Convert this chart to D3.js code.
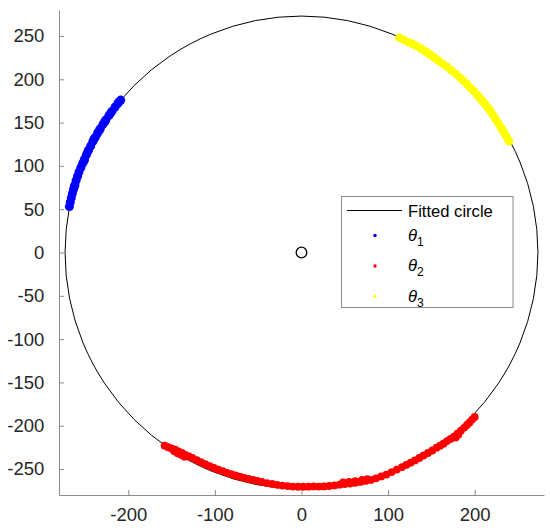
<!DOCTYPE html>
<html>
<head>
<meta charset="utf-8">
<script src="https://cdn.jsdelivr.net/npm/d3@7"></script>
<style>
    body { margin: 0; background: #fff; }
    svg { display: block; font-family: "Liberation Sans", Arial, Helvetica, sans-serif; }
</style>
</head>
<body>
<div id="chart"></div>
<script>
// fitted circle (center + radius)
const circleCenter = [0, 0];
const circleRadius = 273;

// theta 1 samples (blue)
const theta1 = [
    [-268.0, 53], [-267.0, 58], [-265.8, 63], [-264.6, 68], [-263.2, 73], [-262.3, 76],
    [-261.6, 78], [-260.3, 83], [-258.6, 88], [-256.9, 93], [-254.8, 98], [-252.6, 103],
    [-251.0, 106], [-250.4, 108], [-248.3, 113], [-246.6, 117], [-246.0, 118], [-243.4, 123],
    [-241.0, 128], [-239.6, 131], [-238.1, 133], [-235.4, 138], [-233.4, 141], [-232.3, 143],
    [-229.2, 148], [-227.2, 151], [-226.0, 153], [-222.4, 158], [-220.4, 161], [-218.8, 163],
    [-215.2, 168], [-212.0, 172], [-210.6, 174], [-208.7, 176]
];

// theta 2 samples (red)
const theta2 = [
    [-158, -223.1], [-154, -224.8], [-150, -226.3], [-147, -229.5], [-146, -227.7],
    [-143, -231.8], [-142, -229.6], [-139, -233.5], [-138, -231.5], [-135, -235.8],
    [-134, -233.8], [-130, -235.5], [-126, -237.1], [-121, -239.7], [-116, -242.1],
    [-111, -244.5], [-106, -246.7], [-101, -248.8], [-96, -250.8], [-91, -252.6],
    [-86, -254.4], [-81, -256.0], [-76, -257.5], [-71, -258.9], [-66, -260.3],
    [-61, -261.5], [-56, -262.6], [-51, -263.6], [-46, -265.0], [-40, -266.2],
    [-34, -267.3], [-28, -268.2], [-22, -269.1], [-16, -269.7], [-10, -270.3],
    [-4, -270.5], [2, -270.5], [8, -270.4], [14, -270.1], [20, -270.3], [26, -270.1],
    [32, -269.6], [38, -269.0], [44, -268.1], [48, -265.5], [50, -267.4], [55, -264.8],
    [56, -266.7], [62, -264.0], [62, -265.9], [68, -264.9], [70, -262.6], [74, -263.8],
    [76, -261.8], [80, -262.6], [86, -260.7], [92, -258.6], [98, -256.4], [104, -253.5],
    [110, -250.6], [116, -247.7], [121, -245.3], [126, -242.7], [131, -240.1],
    [136, -237.3], [141, -234.4], [146, -231.5], [151, -228.6], [156, -225.3],
    [160, -223.0], [164, -220.7], [168, -217.7], [172, -215.2], [176, -212.6],
    [178, -213.5], [180, -209.2], [181, -210.5], [184, -205.7], [188, -202.1],
    [191, -199.2], [194, -196.3], [197, -192.9], [200, -189.8]
];

// theta 3 samples (yellow)
const theta3 = [
    [113, 248.0], [118, 245.6], [123, 243.0], [128, 240.9], [133, 238.3], [138, 235.4],
    [143, 232.2], [148, 228.8], [153, 225.3], [158, 221.6], [163, 218.0], [168, 214.3],
    [173, 210.5], [178, 206.4], [183, 202.0], [187, 198.3], [191, 194.4], [195, 190.3],
    [199, 186.2], [203, 181.8], [206, 178.4], [209, 174.9], [212, 171.2], [215, 167.4],
    [218, 163.5], [221, 158.9], [224, 154.3], [227, 149.5], [230, 144.8], [232, 141.6],
    [234, 138.3], [236, 134.8], [238, 131.3], [239.5, 128.5]
];

const xTicks = [-200, -100, 0, 100, 200];
const yTicks = [-250, -200, -150, -100, -50, 0, 50, 100, 150, 200, 250];

const series = [
    { name: '1', data: theta1, color: '#0000ff', r: 4.5 },
    { name: '2', data: theta2, color: '#ff0000', r: 3.9 },
    { name: '3', data: theta3, color: '#ffff00', r: 4.3 }
];

const width = 550;
const height = 531;
const axisColor = '#8c8c8c';
const textColor = '#262626';

const svg = d3.select('#chart')
    .append('svg')
    .attr('width', width)
    .attr('height', height);

const x = d3.scaleLinear().domain([-280, 280]).range([59, 544]);
const y = d3.scaleLinear().domain([-280, 280]).range([495, 10]);

// fitted circle
svg.append('ellipse')
    .attr('cx', x(circleCenter[0]))
    .attr('cy', y(circleCenter[1]))
    .attr('rx', x(circleCenter[0] + circleRadius) - x(circleCenter[0]))
    .attr('ry', y(circleCenter[1]) - y(circleCenter[1] + circleRadius))
    .attr('fill', 'none')
    .attr('stroke', '#000')
    .attr('stroke-width', 1);

// scatter points
series.forEach(s => {
    svg.append('g')
        .selectAll('circle')
        .data(s.data)
        .enter()
        .append('circle')
        .attr('cx', d => x(d[0]))
        .attr('cy', d => y(d[1]))
        .attr('r', s.r)
        .attr('fill', s.color);
});

// center marker
svg.append('circle')
    .attr('cx', x(circleCenter[0]))
    .attr('cy', y(circleCenter[1]))
    .attr('r', 5.3)
    .attr('fill', 'none')
    .attr('stroke', '#000')
    .attr('stroke-width', 1.3);

// axes (ticks pointing inward), plain hyphen for negatives
const fmt = d => String(d);
const xAxis = svg.append('g')
    .attr('transform', `translate(0,${y.range()[0]})`)
    .call(d3.axisBottom(x).tickValues(xTicks).tickFormat(fmt).tickSizeInner(-5).tickSizeOuter(0).tickPadding(13.3));

const yAxis = svg.append('g')
    .attr('transform', `translate(${x.range()[0]},0)`)
    .call(d3.axisLeft(y).tickValues(yTicks).tickFormat(fmt).tickSizeInner(-5).tickSizeOuter(0).tickPadding(14.7));

[xAxis, yAxis].forEach(a => {
    a.select('.domain').attr('stroke', axisColor);
    a.selectAll('.tick line').attr('stroke', axisColor);
    a.selectAll('.tick text')
        .attr('fill', textColor)
        .style('font-size', '18.5px')
        .style('font-family', '"Liberation Sans", Arial, Helvetica, sans-serif');
});

// legend
const legend = svg.append('g');
legend.append('rect')
    .attr('x', 341.5)
    .attr('y', 196.5)
    .attr('width', 171.5)
    .attr('height', 111)
    .attr('fill', '#fff')
    .attr('stroke', axisColor);

legend.append('line')
    .attr('x1', 347).attr('x2', 402)
    .attr('y1', 210.5).attr('y2', 210.5)
    .attr('stroke', '#000')
    .attr('stroke-width', 1);

legend.append('text')
    .attr('x', 408)
    .attr('y', 216.5)
    .attr('fill', '#000')
    .style('font-size', '16.6px')
    .text('Fitted circle');

series.forEach((s, i) => {
    const cy = 235.5 + i * 30.5;
    legend.append('circle')
        .attr('cx', 375)
        .attr('cy', cy)
        .attr('r', 1.7)
        .attr('fill', s.color);

    const t = legend.append('text')
        .attr('x', 408)
        .attr('y', cy + 5)
        .attr('fill', '#000')
        .style('font-size', '16.6px');
    t.append('tspan').attr('font-style', 'italic').text('θ');
    t.append('tspan').attr('dy', 5).attr('font-style', 'normal').style('font-size', '12px').text(s.name);
});
</script>
</body>
</html>
